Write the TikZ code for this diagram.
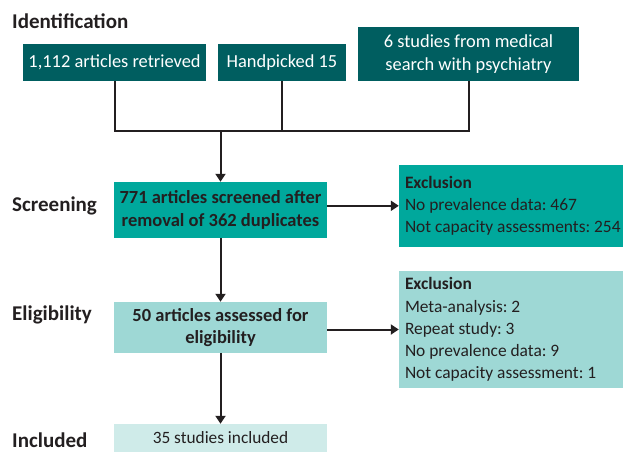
\documentclass[tikz,border=0pt]{standalone}
\usepackage{fontspec}
\setmainfont{Carlito}
\frenchspacing
\usepackage{tikz}
\usetikzlibrary{positioning, arrows.meta, calc}

\definecolor{darkteal}{RGB}{0,94,96}
\definecolor{midteal}{RGB}{0,168,156}
\definecolor{lightteal}{RGB}{158,216,213}
\definecolor{paleteal}{RGB}{207,235,233}
\definecolor{inkgray}{RGB}{35,31,32}

\begin{document}
\begin{tikzpicture}[x=1pt,y=-1pt,
    stage/.style={anchor=base west,inner sep=0pt,font=\fontsize{21}{26}\selectfont\bfseries,text=inkgray},
    srcbox/.style={rectangle,fill=darkteal,text=white,inner sep=0pt,align=center,minimum height=36.7pt,font=\fontsize{18.4}{23}\selectfont},
    flowbox/.style={rectangle,inner sep=0pt,align=center,minimum width=213pt,text=inkgray,font=\fontsize{18.5}{22.3}\selectfont},
    exclbox/.style={rectangle,inner xsep=6pt,inner ysep=0pt,align=flush left,text width=216pt,text=inkgray,font=\fontsize{17.4}{22.2}\selectfont},
    link/.style={line width=2pt,draw=inkgray},
    flow/.style={link,-{Triangle[length=8pt,width=10pt]}}]
    \useasboundingbox (0,0) rectangle (623,452);

    % Fasi
    \node[stage] (lblid) at (12,29) {Identification};
    \node[stage] (lblscr) at (12,211.7) {Screening};
    \node[stage] (lblelig) at (12,320) {Eligibility};
    \node[stage] (lblinc) at (12,447.3) {Included};

    % Fonti
    \node[srcbox,minimum width=183pt] (ret) at (114.5,62.3) {1,112 articles retrieved};
    \node[srcbox,minimum width=128pt] (hand) at (282,62.3) {Handpicked 15};
    \node[srcbox,minimum width=221pt,minimum height=54pt] (med) at (468.5,53.7) {6 studies from medical\\search with psychiatry};

    % Flusso centrale
    \node[flowbox,fill=midteal,minimum height=55.7pt,font=\fontsize{18.5}{22.3}\selectfont\bfseries] (scr) at (220.5,209.8) {771 articles screened after\\removal of 362 duplicates};
    \node[flowbox,fill=lightteal,minimum height=50.7pt,font=\fontsize{18.5}{22.3}\selectfont\bfseries] (elig) at (220.5,327.3) {50 articles assessed for\\eligibility};
    \node[flowbox,fill=paleteal,minimum height=28pt,font=\fontsize{17.3}{21}\selectfont] (inc) at (220.5,438) {35 studies included};

    % Esclusioni
    \node[exclbox,fill=midteal,minimum height=81.7pt] (excl1) at (513,205.8) {\textbf{Exclusion}\\No prevalence data: 467\\Not capacity assessments: 254};
    \node[exclbox,fill=lightteal,minimum height=117.6pt] (excl2) at (513,329.5) {\textbf{Exclusion}\\Meta-analysis: 2\\Repeat study: 3\\No prevalence data: 9\\Not capacity assessment: 1};

    % Collegamenti
    \coordinate (join) at (220.5,130.7);
    \draw[link] (ret.south) |- (join);
    \draw[link] (med.south) |- (join);
    \draw[link] (hand.south) -- (hand.south |- join);
    \draw[flow] (join) -- (scr.north);
    \draw[flow] (scr.south) -- (elig.north);
    \draw[flow] (elig.south) -- (inc.north);
    \draw[flow] (excl1.west -| scr.east) -- (excl1.west);
    \draw[flow] (excl2.west -| elig.east) -- (excl2.west);
\end{tikzpicture}
\end{document}
